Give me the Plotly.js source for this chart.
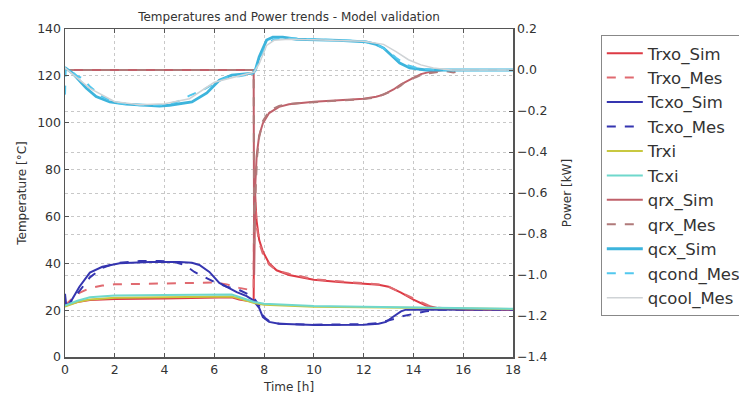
<!DOCTYPE html>
<html>
<head>
<meta charset="utf-8">
<script src="https://cdn.plot.ly/plotly-3.0.1.min.js"></script>
<style>html,body{margin:0;padding:0;background:#fff;}#chart{width:739px;height:396px;}</style>
</head>
<body>
<div id="chart"></div>
<script>
// ---- Data (time in hours) ----
const tTrxoSim = [0,0.5,1,2,4,6,6.7,7,7.5,7.58,7.6,7.65,7.7,7.8,7.95,8.2,8.5,9,9.5,10,11,12,12.6,13,13.5,14,14.5,15,15.5,16,18];
const trxoSim  = [22,23.5,24.3,24.8,25,25.5,25.5,24.5,23.5,23.5,75,64,58,50,45,40,37,35,34,33,32,31.3,30.8,30,27.5,24.5,22,20.8,20.4,20.2,20.2];

const tTrxoMes = [0,0.3,0.6,1,1.5,2,3,4,5,6,6.5,7,7.5,7.58,7.6,7.65,7.7,7.8,7.95,8.2,8.5,9,10,11,12,12.6,13,13.5,14,14.3,14.6,15,15.3,15.6,16,18];
const trxoMes  = [22,25,27.5,29.4,30.5,31,31.2,31.5,31.8,31.8,31,29.5,28.5,28.5,73,63,56,49,44,39.5,37,35.5,33.2,32.3,31.5,31,30,27.5,25,23.5,22,21,20.8,20.2,20.4,20.2];

const tTcxoSim = [0,0.05,0.2,0.58,1,1.5,2.2,3.4,4.6,5.1,5.4,5.8,6.2,6.9,7.3,7.55,7.8,7.95,8.2,8.6,10,12,12.6,12.9,13.2,13.5,13.7,16,18];
const tcxoSim  = [27,22,23,30,36,38.5,40,40.6,40.6,40.2,39.3,36.3,31.6,27.7,26,24.3,21,17,15,14.2,13.7,13.8,14.2,15,17.3,19.5,20.2,20.3,20.3];

const tTcxoMes = [0,0.15,0.5,1,1.5,2,3,3.8,4.4,4.8,5.2,5.6,6,6.5,7,7.5,7.6,7.8,8,8.3,9,10,12,12.6,13,13.3,13.6,14,14.5,15,16,18];
const tcxoMes  = [22,22.5,27,34,38,40,41,41,40.5,39.3,36.3,34,32,30,28.6,26,25,22,17,14.5,14,13.8,14,14.5,15.5,16.5,17.5,18.5,19.5,20.2,20.3,20.3];

const tInlet = [0,0.5,1,1.5,2,4,6,6.7,7,7.5,7.6,8,10,12,14,16,18];
const trxi   = [21.5,23.5,24.5,25,25.3,25.5,25.8,25.8,25,23.5,23,22.3,21.5,21.2,21,20.6,20.5];
const tcxi   = [22,24,25.5,26,26.3,26.5,26.7,26.7,25.6,24,23.5,22.7,21.8,21.4,21.2,20.8,20.6];

const tQrxSim = [0,7.58,7.6,7.62,7.65,7.7,7.8,7.95,8.2,8.6,9,10,11,12,12.5,12.8,13.2,13.5,13.9,14.3,14.7,15.2,16,18];
const qrxSim  = [0,0,-1.0,-0.75,-0.55,-0.42,-0.32,-0.26,-0.21,-0.18,-0.167,-0.155,-0.148,-0.14,-0.13,-0.12,-0.095,-0.07,-0.045,-0.02,-0.008,0,0,0];

const tQrxMes = [0,7.5,7.58,7.6,7.63,7.67,7.72,7.8,7.95,8.2,8.6,9,10,11,12,12.5,12.8,13.2,13.5,13.8,14.1,14.4,14.7,15,15.3,15.6,16,18];
const qrxMes  = [0,0,0,-0.85,-0.7,-0.55,-0.42,-0.33,-0.25,-0.2,-0.175,-0.165,-0.157,-0.15,-0.142,-0.133,-0.12,-0.1,-0.075,-0.045,-0.035,-0.02,-0.015,-0.01,-0.005,-0.012,0,0];

const tQcxSim = [0,0.3,0.85,1.25,1.8,2.45,3.8,4.2,5.1,5.7,6.2,6.7,7.55,7.65,7.8,8.1,8.35,8.75,9.3,10,11,12.1,12.5,12.8,13.2,13.45,13.85,14.5,16,18];
const qcxSim  = [0.012,-0.015,-0.088,-0.13,-0.156,-0.166,-0.176,-0.172,-0.156,-0.112,-0.05,-0.025,-0.015,0.0,0.063,0.146,0.16,0.16,0.15,0.148,0.145,0.137,0.125,0.107,0.063,0.034,0.01,0.0,0,0];

const tQcondMes = [0,0.03,0.3,0.5,0.7,1,1.5,2,3,4,4.5,5,5.5,6,6.5,7,7.5,7.6,7.8,8.1,8.4,9,10,11,12,12.6,13,13.3,13.7,14.2,15,16,18];
const qcondMes  = [-0.12,0.01,-0.01,-0.03,-0.04,-0.08,-0.13,-0.16,-0.172,-0.17,-0.155,-0.125,-0.1,-0.065,-0.035,-0.03,-0.02,-0.01,0.04,0.125,0.15,0.155,0.15,0.145,0.14,0.12,0.09,0.06,0.025,0.008,0,0,0];

const tQcoolMes = [0,1,2,3,4,5,6,7,7.6,7.8,8.1,8.4,9,10,12,12.8,13.3,13.8,14.3,14.8,15.5,16,18];
const qcoolMes  = [0.01,-0.09,-0.155,-0.17,-0.165,-0.14,-0.06,-0.03,-0.01,0.03,0.12,0.145,0.15,0.148,0.14,0.125,0.09,0.05,0.025,0.01,0,0,0];

const seriesNames = ['Trxo_Sim','Trxo_Mes','Tcxo_Sim','Tcxo_Mes','Trxi','Tcxi','qrx_Sim','qrx_Mes','qcx_Sim','qcond_Mes','qcool_Mes'];

function tr(name, x, y, color, dash, width, axis) {
  return {x: x, y: y, name: name, type: 'scatter', mode: 'lines', yaxis: axis,
          legendgroup: name,
          line: {color: color, dash: dash, width: width}};
}

const traces = [
  tr(seriesNames[0], tTrxoSim, trxoSim, '#dd3a44', 'solid', 2, 'y'),
  tr(seriesNames[1], tTrxoMes, trxoMes, '#e06a70', 'dash', 2, 'y'),
  tr(seriesNames[2], tTcxoSim, tcxoSim, '#3535b0', 'solid', 2, 'y'),
  tr(seriesNames[3], tTcxoMes, tcxoMes, '#3535b0', 'dash', 2, 'y'),
  tr(seriesNames[4], tInlet, trxi, '#c8c840', 'solid', 2, 'y'),
  tr(seriesNames[5], tInlet, tcxi, '#6fd8cc', 'solid', 2, 'y'),
  tr(seriesNames[6], tQrxSim, qrxSim, '#c0606a', 'solid', 2, 'y2'),
  tr(seriesNames[7], tQrxMes, qrxMes, '#b07a7a', 'dash', 2, 'y2'),
  tr(seriesNames[8], tQcxSim, qcxSim, '#3db4dc', 'solid', 2.8, 'y2'),
  tr(seriesNames[9], tQcondMes, qcondMes, '#52c8ee', 'dash', 2, 'y2'),
  tr(seriesNames[10], tQcoolMes, qcoolMes, '#cfd3d6', 'solid', 1.5, 'y2')
];

const axisFont = {family: 'DejaVu Sans', size: 12.5, color: '#333'};
const titleFont = {family: 'DejaVu Sans', size: 12, color: '#333'};
const layout = {
  width: 739, height: 396,
  margin: {l: 65, r: 226, t: 29, b: 39, autoexpand: false},
  paper_bgcolor: '#fff', plot_bgcolor: '#fff',
  font: {family: 'DejaVu Sans', size: 12, color: '#333'},
  showlegend: true,
  title: {text: 'Temperatures and Power trends - Model validation',
          font: titleFont,
          xref: 'paper', x: 0.5, xanchor: 'center', yref: 'container', y: 0.957, yanchor: 'middle'},
  xaxis: {range: [0, 18], dtick: 2, tick0: 0, showline: true, linecolor: '#555', linewidth: 1.5,
          mirror: 'ticks', ticks: 'inside', ticklen: 4, tickcolor: '#555',
          showgrid: true, gridcolor: '#c8c8c8', griddash: 'dot', gridwidth: 1, zeroline: false,
          tickfont: axisFont,
          title: {text: 'Time [h]', font: titleFont, standoff: 7}},
  yaxis: {range: [0, 140], dtick: 20, tick0: 0, showline: true, linecolor: '#555', linewidth: 1.5,
          mirror: true, ticks: 'inside', ticklen: 4, tickcolor: '#555',
          showgrid: true, gridcolor: '#c8c8c8', griddash: 'dot', gridwidth: 1, zeroline: false,
          tickfont: axisFont,
          title: {text: 'Temperature [°C]', font: titleFont, standoff: 8}},
  yaxis2: {range: [-1.4, 0.2], dtick: 0.2, tick0: 0, tickformat: '.1f', overlaying: 'y', side: 'right',
           showline: true, linecolor: '#555', linewidth: 1.5, ticks: 'inside', ticklen: 4, tickcolor: '#555',
           showgrid: true, gridcolor: '#c8c8c8', griddash: 'dot', gridwidth: 1, zeroline: false,
           tickfont: axisFont,
           title: {text: 'Power [kW]', font: titleFont, standoff: 16}},
  legend: {x: 1.196, xanchor: 'left', y: 0.982, yanchor: 'top',
           font: {family: 'DejaVu Sans', size: 16.5, color: '#333'},
           bordercolor: '#888', borderwidth: 1, bgcolor: '#fff',
           tracegroupgap: 0, itemwidth: 36, traceorder: 'normal'}
};

Plotly.newPlot('chart', traces, layout, {displayModeBar: false, staticPlot: true});
</script>
</body>
</html>
